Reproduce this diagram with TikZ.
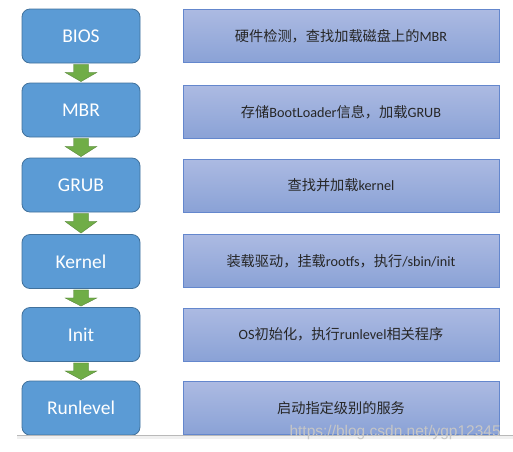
\documentclass[tikz,border=0pt]{standalone}
\usepackage{fontspec}
\setmainfont{Carlito}
\newfontfamily\cjk{Noto Sans CJK SC}
\newfontfamily\wmfont{Liberation Sans}
\usetikzlibrary{calc}
\definecolor{stepblue}{RGB}{91,155,213}
\definecolor{stepedge}{RGB}{65,113,156}
\definecolor{desctop}{RGB}{172,186,226}
\definecolor{descbot}{RGB}{138,162,214}
\definecolor{descedge}{RGB}{100,135,205}
\definecolor{arrgreen}{RGB}{112,173,71}
\definecolor{arredge}{RGB}{80,126,50}
\tikzset{
  stepbox/.style={draw=stepedge, line width=0.8pt, fill=stepblue, rounded corners=8pt,
    minimum width=118pt, minimum height=54pt, inner sep=0pt, text=white, font=\fontsize{19.5}{22}\selectfont},
  descbox/.style={draw=descedge, line width=0.8pt, top color=desctop, bottom color=descbot,
    minimum width=316pt, minimum height=53pt, inner sep=0pt, text=black!85, font=\fontsize{14.2}{16}\selectfont},
  downarrow/.style={fill=arrgreen, draw=arredge, line width=0.3pt}
}
\begin{document}
\begin{tikzpicture}[x=1pt,y=-1pt]
\useasboundingbox (0,0) rectangle (513,451);
\fill[white] (0,0) rectangle (513,451);
% left step boxes
\node[stepbox] (bios) at (81,36) {BIOS};
\node[stepbox] (mbr) at (81,110) {MBR};
\node[stepbox] (grub) at (81,185) {GRUB};
\node[stepbox] (kernel) at (81,261.5) {Kernel};
\node[stepbox] (init) at (81,334.5) {Init};
\node[stepbox] (runlevel) at (81,408) {Runlevel};
% description boxes
\node[descbox] (d1) at (341,36) {{\cjk 硬件检测，查找加载磁盘上的}MBR};
\node[descbox] (d2) at (341,112) {{\cjk 存储}BootLoader{\cjk 信息，加载}GRUB};
\node[descbox] (d3) at (341,185.5) {{\cjk 查找并加载}kernel};
\node[descbox] (d4) at (341,261) {{\cjk 装载驱动，挂载}rootfs{\cjk ，执行}/sbin/init};
\node[descbox] (d5) at (341,334.5) {OS{\cjk 初始化，执行}runlevel{\cjk 相关程序}};
\node[descbox] (d6) at (341,408) {{\cjk 启动指定级别的服务}};
% green block arrows
\foreach \a/\b in {bios/mbr, mbr/grub, grub/kernel, kernel/init, init/runlevel}{
  \path (\a.south) ++(0,1) coordinate (t);
  \draw[downarrow] (t) ++(-7.5,0) -- ++(15,0) -- ++(0,8) -- ++(8.5,0)
     -- ($(\b.north)+(0,-1)$) -- ($(t)+(-16,8)$) -- ++(8.5,0) -- cycle;
}
% bottom rule
\fill[gray!12] (17,435.5) rectangle (513,439);
\draw[gray!55, line width=0.8pt] (17,435.5) -- (513,435.5);
% watermark
\node[anchor=west, font=\wmfont\fontsize{15.5}{17}\selectfont, text=gray!45] (wm) at (286,432) {https://blog.csdn.net/ygp12345};
\end{tikzpicture}
\end{document}
